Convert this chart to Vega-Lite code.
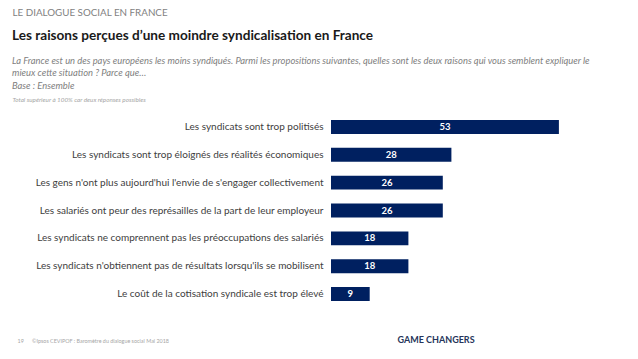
{
  "$schema": "https://vega.github.io/schema/vega-lite/v6.json",
  "width": 258,
  "height": 195,
  "autosize": "none",
  "padding": {"left": 331, "top": 113, "right": 49, "bottom": 51},
  "background": "white",
  "config": {"view": {"stroke": null}, "font": "Lato"},
  "title": {
    "text": "Les raisons perçues d’une moindre syndicalisation en France",
    "subtitle": [
      "La France est un des pays européens les moins syndiqués. Parmi les propositions suivantes, quelles sont les deux raisons qui vous semblent expliquer le",
      "mieux cette situation ? Parce que…",
      "Base : Ensemble"
    ],
    "anchor": "start",
    "frame": "group",
    "dx": -319,
    "dy": 87,
    "fontSize": 13.6,
    "fontWeight": "bold",
    "color": "#1a1a1a",
    "subtitleFontSize": 9.4,
    "subtitleFontStyle": "italic",
    "subtitleColor": "#808080",
    "subtitleLineHeight": 12.5,
    "subtitlePadding": 14
  },
  "data": {
    "values": [
      {"raison": "Les syndicats sont trop politisés", "pct": 53},
      {"raison": "Les syndicats sont trop éloignés des réalités économiques", "pct": 28},
      {"raison": "Les gens n'ont plus aujourd'hui l'envie de s'engager collectivement", "pct": 26},
      {"raison": "Les salariés ont peur des représailles de la part de leur employeur", "pct": 26},
      {"raison": "Les syndicats ne comprennent pas les préoccupations des salariés", "pct": 18},
      {"raison": "Les syndicats n'obtiennent pas de résultats lorsqu'ils se mobilisent", "pct": 18},
      {"raison": "Le coût de la cotisation syndicale est trop élevé", "pct": 9}
    ]
  },
  "layer": [
    {
      "mark": {"type": "bar", "color": "#002060"},
      "encoding": {
        "y": {
          "field": "raison", "type": "nominal", "sort": null,
          "scale": {"paddingInner": 0.5, "paddingOuter": 0.25},
          "axis": {
            "title": "Total supérieur à 100% car deux réponses possibles",
            "titleAngle": 0, "titleX": -319, "titleY": -14,
            "titleAlign": "left", "titleBaseline": "middle",
            "titleFontSize": 6.3, "titleFontStyle": "italic", "titleFontWeight": "normal",
            "titleColor": "#a6a6a6",
            "labelFontSize": 10, "labelColor": "#404040", "labelLimit": 400,
            "ticks": false, "domain": false, "labelPadding": 8
          }
        },
        "x": {
          "field": "pct", "type": "quantitative",
          "scale": {"domain": [0, 60]},
          "axis": {
            "orient": "bottom", "labels": false, "ticks": false, "domain": false, "grid": false,
            "title": "19\u00a0\u00a0\u00a0\u00a0\u00a0\u00a0©Ipsos CEVIPOF : Baromètre du dialogue social Mai 2018",
            "titleX": -314, "titleY": 32, "titleAlign": "left", "titleBaseline": "middle",
            "titleFontSize": 5.4, "titleFontWeight": "normal", "titleColor": "#a6a6a6"
          }
        }
      }
    },
    {
      "mark": {"type": "text", "color": "white", "fontWeight": "bold", "fontSize": 9.5},
      "encoding": {
        "y": {
          "field": "raison", "type": "nominal", "sort": null,
          "axis": {
            "orient": "right", "labels": false, "ticks": false, "domain": false,
            "title": "GAME CHANGERS",
            "titleAngle": 0, "titleX": -192, "titleY": 226,
            "titleAlign": "left", "titleBaseline": "middle",
            "titleFontSize": 9, "titleFontWeight": "bold", "titleColor": "#26355a"
          }
        },
        "x": {
          "field": "pct", "type": "quantitative",
          "scale": {"domain": [0, 120]},
          "axis": {
            "orient": "top", "labels": false, "ticks": false, "domain": false, "grid": false,
            "title": "LE DIALOGUE SOCIAL EN FRANCE",
            "titleX": -319, "titleY": -101, "titleAlign": "left", "titleBaseline": "middle",
            "titleFontSize": 9.8, "titleFontWeight": "normal", "titleColor": "#7f7f7f"
          }
        },
        "text": {"field": "pct", "type": "quantitative"}
      }
    }
  ],
  "resolve": {"scale": {"x": "independent"}, "axis": {"x": "independent", "y": "independent"}}
}
